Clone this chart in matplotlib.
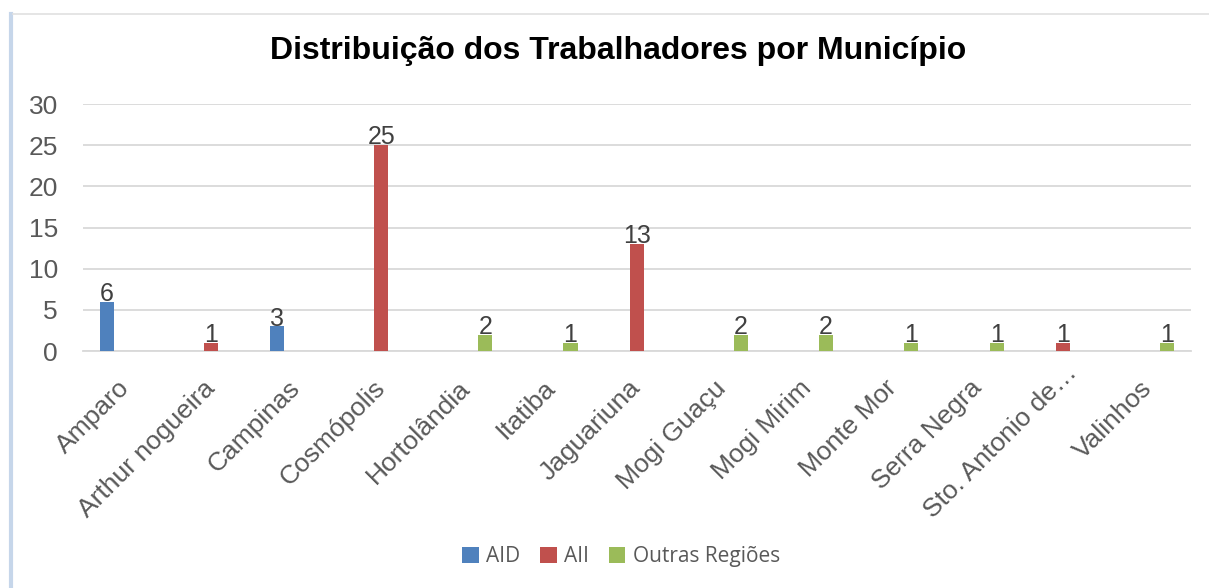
import matplotlib
matplotlib.use("Agg")
import matplotlib.pyplot as plt
import matplotlib.transforms as mtransforms
from matplotlib.lines import Line2D
import numpy as np

# municipalities and how many workers come from each, split by region group
municipios = ["Amparo", "Arthur nogueira", "Campinas", "Cosmópolis", "Hortolândia",
              "Itatiba", "Jaguariuna", "Mogi Guaçu", "Mogi Mirim", "Monte Mor",
              "Serra Negra", "Sto. Antonio de…", "Valinhos"]
aid = [6, None, 3, None, None, None, None, None, None, None, None, None, None]
aii = [None, 1, None, 25, None, None, 13, None, None, None, None, 1, None]
outras = [None, None, None, None, 2, 1, None, 2, 2, 1, 1, None, 1]

series = [("AID", aid, "#4f81bd"),
          ("AII", aii, "#c0504d"),
          ("Outras Regiões", outras, "#9bbb59")]

plt.rcParams["font.family"] = ["Liberation Sans", "DejaVu Sans"]

fig = plt.figure(figsize=(12.09, 5.88), dpi=100)
ax = fig.add_axes([0.0687, 0.403, 0.9163, 0.420])

x = np.arange(len(municipios))
offsets = [-0.22, 0.0, 0.22]
width = 0.165

for (name, vals, color), off in zip(series, offsets):
    xs = [xi + off for xi, v in zip(x, vals) if v is not None]
    ys = [v for v in vals if v is not None]
    bars = ax.bar(xs, ys, width=width, color=color, label=name, zorder=3)
    ax.bar_label(bars, labels=[str(v) for v in ys], padding=-3,
                 fontsize=18, color="#404040", zorder=4)

ax.set_xlim(-0.5, len(municipios) - 0.5)
ax.set_ylim(0, 30)
ax.set_yticks(range(0, 31, 5))
ax.yaxis.grid(True, color="#d9d9d9", linewidth=1.3, zorder=0)
ax.set_axisbelow(True)
for side in ["top", "right", "left"]:
    ax.spines[side].set_visible(False)
ax.spines["bottom"].set_color("#d9d9d9")
ax.spines["bottom"].set_linewidth(1.3)
ax.tick_params(axis="both", length=0, labelsize=19, labelcolor="#595959")
ax.tick_params(axis="y", pad=18)
ax.set_xticks(x)
ax.set_xticklabels(municipios, rotation=45, ha="right", va="center",
                   rotation_mode="anchor")
ax.tick_params(axis="x", pad=24)

# the truncated label sits a little further right and higher
lbl = ax.get_xticklabels()[municipios.index("Sto. Antonio de…")]
lbl.set_transform(lbl.get_transform() +
                  mtransforms.ScaledTranslation(0.10, 0.15, fig.dpi_scale_trans))

fig.text(0.511, 0.913, "Distribuição dos Trabalhadores por Município",
         ha="center", va="center", fontsize=23, fontweight="bold", color="black")

leg = fig.legend(loc="center", bbox_to_anchor=(0.5136, 0.053), ncol=3,
                 frameon=False, handlelength=0.8, handleheight=0.8,
                 handletextpad=0.35, columnspacing=0.95,
                 prop={"family": ["Open Sans", "DejaVu Sans"], "size": 15})
for t in leg.get_texts():
    t.set_color("#595959")

# chart frame edges
fig.add_artist(Line2D([0.0095, 0.0095], [0, 0.976], transform=fig.transFigure,
                      color="#c6d6ea", linewidth=3))
fig.add_artist(Line2D([0.011, 1.0], [0.976, 0.976], transform=fig.transFigure,
                      color="#e0e0e0", linewidth=1.2))

fig.savefig("out.png", dpi=100)
